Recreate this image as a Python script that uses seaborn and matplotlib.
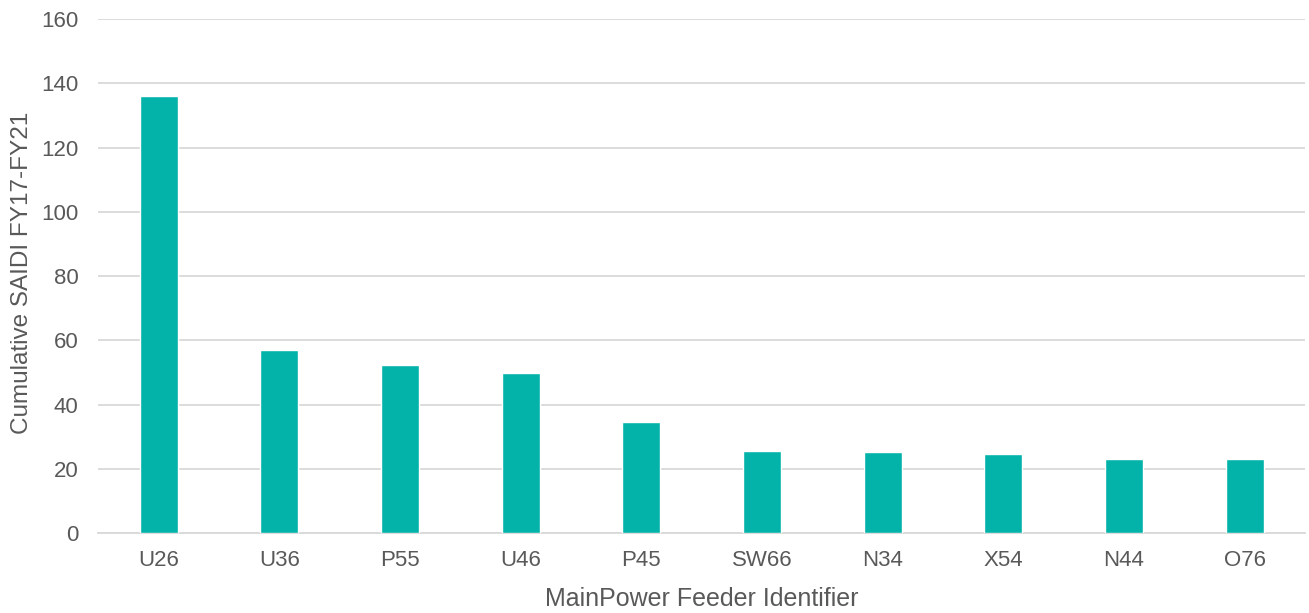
import matplotlib
matplotlib.use("Agg")
import matplotlib.pyplot as plt
import seaborn as sns
import pandas as pd

feeders = ["U26", "U36", "P55", "U46", "P45", "SW66", "N34", "X54", "N44", "O76"]
saidi = [136.0, 57.0, 52.2, 49.8, 34.6, 25.5, 25.2, 24.5, 23.1, 22.9]

df = pd.DataFrame({"feeder": feeders, "saidi": saidi})

sns.set_theme(style="white")
plt.rcParams["font.family"] = ["Liberation Sans", "DejaVu Sans"]

text_color = "#595959"
grid_color = "#D9D9D9"

fig = plt.figure(figsize=(13.09, 6.13), dpi=100)
ax = fig.add_axes([0.075, 0.1305, 0.922, 0.8385])

sns.barplot(data=df, x="feeder", y="saidi", color="#03B3AA", width=0.315,
            saturation=1, ax=ax, zorder=3)

ax.set_ylim(0, 160)
ax.set_yticks(range(0, 161, 20))
ax.set_xlim(-0.5, len(feeders) - 0.5)
ax.yaxis.grid(True, color=grid_color, linewidth=1.3, zorder=0)
ax.set_axisbelow(True)
for side in ["left", "right", "top"]:
    ax.spines[side].set_visible(False)
ax.spines["bottom"].set_color(grid_color)
ax.spines["bottom"].set_linewidth(1.3)

ax.tick_params(axis="both", colors=text_color, labelsize=16, length=0)
ax.tick_params(axis="x", pad=12)
ax.tick_params(axis="y", pad=14)
ax.set_xlabel("MainPower Feeder Identifier", fontsize=18, color=text_color, labelpad=12)
ax.set_ylabel("Cumulative SAIDI FY17-FY21", fontsize=17.5, color=text_color,
              va="center")
ax.yaxis.set_label_coords(-0.0635, 0.507)

fig.savefig("out.png", dpi=100)
